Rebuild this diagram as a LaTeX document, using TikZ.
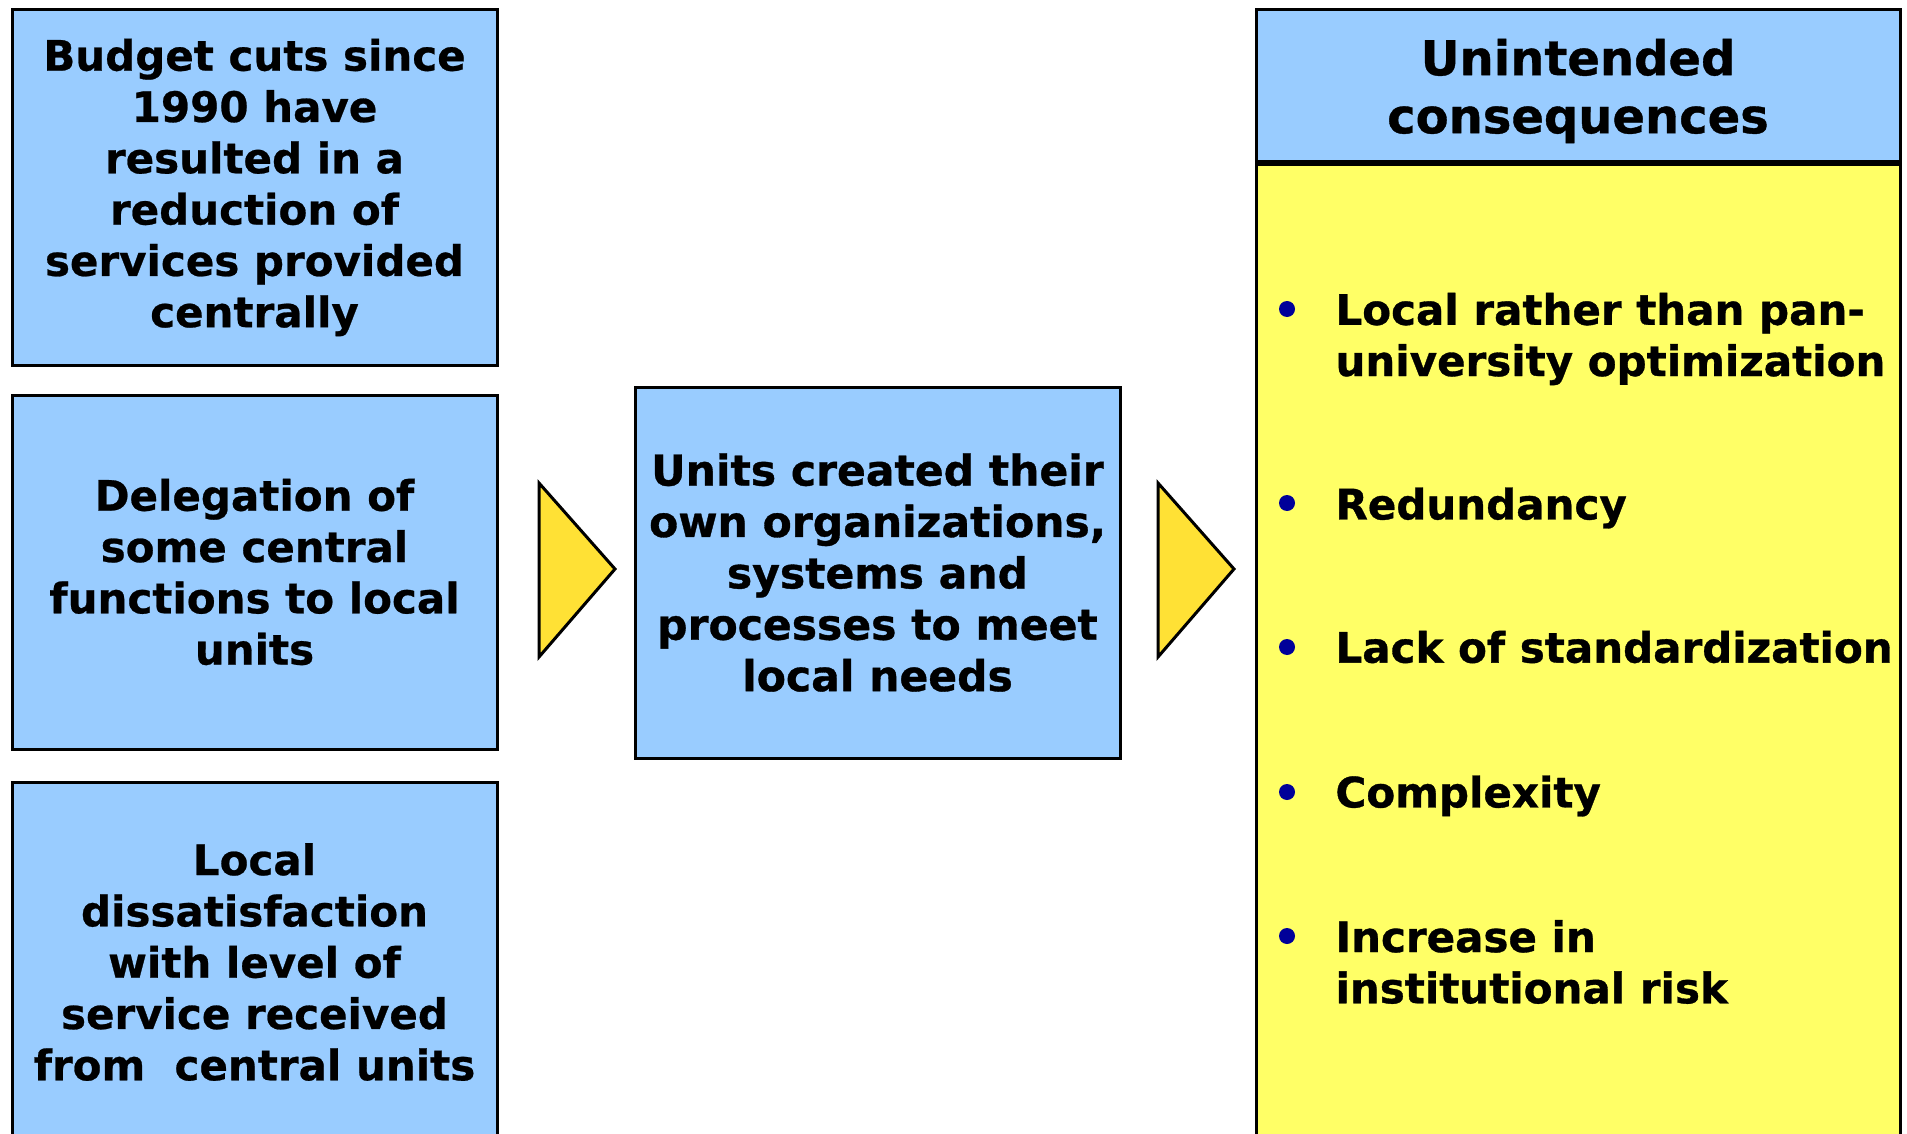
\documentclass[tikz,border=0pt]{standalone}
\usepackage{fontspec}
\setmainfont{DejaVu Sans}[BoldFeatures={FakeBold=0.6}]
\newfontfamily\narrowfont[BoldFeatures={FakeBold=0.8}]{DejaVu Sans}
\usetikzlibrary{positioning}

\definecolor{boxblue}{HTML}{99CCFF}
\definecolor{bodyyellow}{HTML}{FFFF66}
\definecolor{chevronyellow}{HTML}{FFE135}
\definecolor{dotblue}{HTML}{000099}

\begin{document}
\begin{tikzpicture}[x=1pt, y=-1pt, line width=3pt,
  causebox/.style={draw=black, fill=boxblue, minimum width=485pt,
    inner sep=0pt, align=center,
    font=\bfseries\fontsize{42}{51.3}\selectfont},
  effectbox/.style={causebox, font=\narrowfont\bfseries\fontsize{42.5}{51.4}\selectfont},
  chevron/.style={draw=black, fill=chevronyellow, line join=miter},
  listitem/.style={anchor=west, align=left, inner sep=0pt,
    font=\narrowfont\bfseries\fontsize{42}{51.2}\selectfont},
  listdot/.style={fill=dotblue, draw=none}]

  \useasboundingbox (0,0) rectangle (1907,1134);

  %--- Causes (left column) ------------------------------------------------
  \node[causebox, minimum height=355pt] (cuts) at (254.5,187.5)
    {Budget cuts since\\1990 have\\resulted in a\\reduction of\\services provided\\centrally};
  \node[causebox, minimum height=354pt] (delegation) at (254.5,572)
    {Delegation of\\some central\\functions to local\\units};
  \node[causebox, minimum height=360pt] (dissatisfaction) at (254.5,962)
    {Local\\dissatisfaction\\with level of\\service received\\from\ \ central units};

  %--- Result (middle) -----------------------------------------------------
  \node[effectbox, minimum height=371pt] (units) at (877.5,572.5)
    {Units created their\\own organizations,\\systems and\\processes to meet\\local needs};

  %--- Chevrons ------------------------------------------------------------
  \draw[chevron] (539,483) -- (615,569) -- (539,657) -- cycle;
  \draw[chevron] (1158,483) -- (1234,569) -- (1158,657) -- cycle;

  %--- Unintended consequences (right column) ------------------------------
  \node[causebox, minimum width=644pt, minimum height=152pt] (head) at (1578,86) {};
  \node[draw=black, fill=bodyyellow, minimum width=644pt, minimum height=985pt,
        anchor=north, inner sep=0pt] (body) at (head.south) {};
  \node[align=center, inner sep=0pt,
        font=\narrowfont\bfseries\fontsize{48}{58}\selectfont] (title)
        at ([yshift=-5pt]head.center) {Unintended\\consequences};

  \node[listitem] (c1) at (1334,339) {Local rather than pan-\\university optimization};
  \node[listitem] (c2) at (1334,508) {Redundancy};
  \node[listitem] (c3) at (1334,647) {Lack of standardization};
  \node[listitem] (c4) at (1334,796) {Complexity};
  \node[listitem] (c5) at (1334,962) {Increase in\\institutional risk};

  \foreach \yy in {309, 503, 647, 792, 936}
    \fill[listdot] (1287,\yy) circle (8pt);

\end{tikzpicture}
\end{document}
